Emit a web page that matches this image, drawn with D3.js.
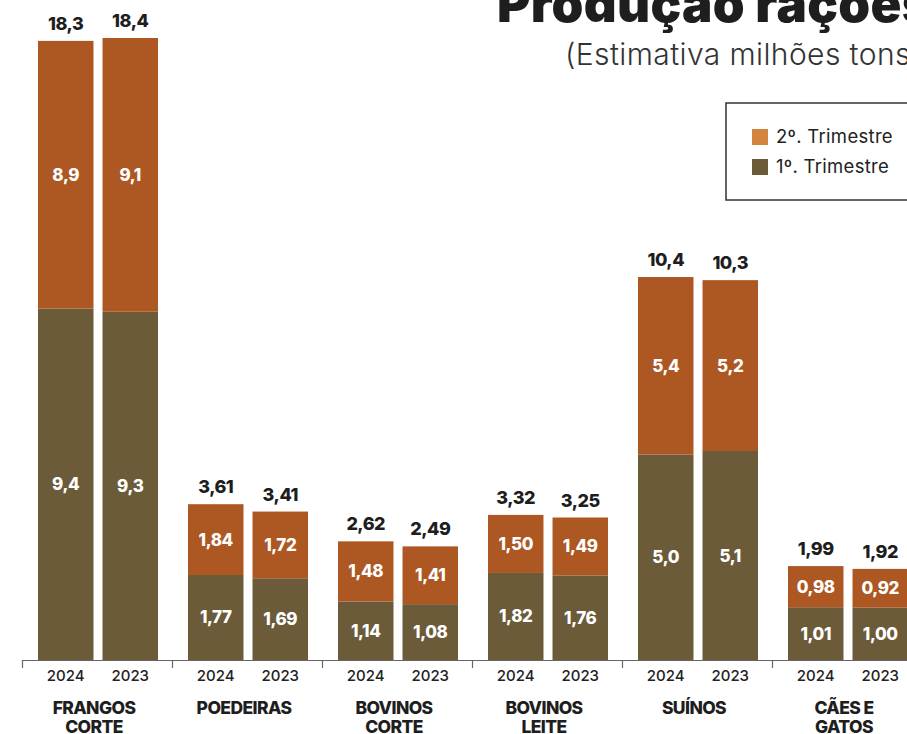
<!DOCTYPE html>
<html>
<head>
<meta charset="utf-8">
<script src="https://cdn.jsdelivr.net/npm/d3@7"></script>
<style>
  body { margin: 0; background: #fff; }
  svg { display: block; font-family: Inter, "Noto Sans", sans-serif; }
</style>
</head>
<body>
<svg width="907" height="734"></svg>
<script>
var categories = [["FRANGOS", "CORTE"], ["POEDEIRAS"], ["BOVINOS", "CORTE"], ["BOVINOS", "LEITE"], ["SUÍNOS"], ["CÃES E", "GATOS"]];
var years = ["2024", "2023"];
var decimals = [1, 2, 2, 2, 1, 2];

// 1º trimestre
var q1_2024 = [9.4, 1.77, 1.14, 1.82, 5.0, 1.01];
var q1_2023 = [9.3, 1.69, 1.08, 1.76, 5.1, 1.00];
// 2º trimestre
var q2_2024 = [8.9, 1.84, 1.48, 1.50, 5.4, 0.98];
var q2_2023 = [9.1, 1.72, 1.41, 1.49, 5.2, 0.92];
// totais
var tot_2024 = [18.3, 3.61, 2.62, 3.32, 10.4, 1.99];
var tot_2023 = [18.4, 3.41, 2.49, 3.25, 10.3, 1.92];

var orange = '#ad5722', olive = '#6b5b39';

var rows = [];
categories.forEach(function(c, i) {
    rows.push({ cat: i, year: '2024', q1: q1_2024[i], q2: q2_2024[i], tot: tot_2024[i] });
    rows.push({ cat: i, year: '2023', q1: q1_2023[i], q2: q2_2023[i], tot: tot_2023[i] });
});

function fmt(v, d) { return v.toFixed(d).replace('.', ','); }

var x0 = d3.scaleBand()
    .domain(d3.range(categories.length))
    .range([22, 22 + 150 * categories.length]);

var x1 = d3.scaleBand()
    .domain(years)
    .range([16, 136])
    .paddingInner(0.14);

var y = d3.scalePow()
    .exponent(0.85)
    .domain([0, 18.4])
    .range([660, 38]);

var svg = d3.select('svg');

// título
svg.append('text')
    .attr('x', 497).attr('y', 22)
    .style('font-size', '51px').style('font-weight', 900)
    .style('letter-spacing', '0.3px')
    .attr('fill', '#1e1e1e')
    .text('Produção rações');

svg.append('text')
    .attr('x', 565).attr('y', 65)
    .style('font-size', '30px').style('font-weight', 300)
    .style('letter-spacing', '0.4px')
    .attr('fill', '#333')
    .text('(Estimativa milhões tons)');

// eixo
var axisScale = d3.scaleLinear().domain([0, categories.length]).range(x0.range());
svg.append('g')
    .attr('transform', 'translate(0,660)')
    .call(d3.axisBottom(axisScale).tickValues(d3.range(categories.length + 1)).tickFormat('').tickSize(8).tickSizeOuter(0))
    .call(function(g) {
        g.selectAll('path, line').attr('stroke', '#666').attr('stroke-width', 1.2);
    });

var bars = svg.selectAll('g.bar')
    .data(rows)
    .enter()
    .append('g')
    .attr('class', 'bar')
    .attr('transform', function(d) { return 'translate(' + (x0(d.cat) + x1(d.year)) + ',0)'; });

var bw = x1.bandwidth();

bars.append('rect')
    .attr('x', 0).attr('width', bw)
    .attr('y', function(d) { return y(d.q1); })
    .attr('height', function(d) { return y(0) - y(d.q1); })
    .attr('fill', olive);

bars.append('rect')
    .attr('x', 0).attr('width', bw)
    .attr('y', function(d) { return y(d.tot); })
    .attr('height', function(d) { return y(d.q1) - y(d.tot); })
    .attr('fill', orange);

bars.append('text')
    .attr('x', bw / 2)
    .attr('y', function(d) { return (y(0) + y(d.q1)) / 2 + 6; })
    .attr('text-anchor', 'middle')
    .style('font-size', '17px').style('font-weight', 800)
    .style('letter-spacing', '-0.4px')
    .attr('fill', '#fff')
    .text(function(d) { return fmt(d.q1, decimals[d.cat]); });

bars.append('text')
    .attr('x', bw / 2)
    .attr('y', function(d) { return (y(d.q1) + y(d.tot)) / 2 + 6; })
    .attr('text-anchor', 'middle')
    .style('font-size', '17px').style('font-weight', 800)
    .style('letter-spacing', '-0.4px')
    .attr('fill', '#fff')
    .text(function(d) { return fmt(d.q2, decimals[d.cat]); });

bars.append('text')
    .attr('x', bw / 2)
    .attr('y', function(d) { return y(d.tot) - 11; })
    .attr('text-anchor', 'middle')
    .style('font-size', '18px').style('font-weight', 800)
    .style('letter-spacing', '-0.5px')
    .attr('fill', '#1e1e1e')
    .text(function(d) { return fmt(d.tot, decimals[d.cat]); });

bars.append('text')
    .attr('x', bw / 2)
    .attr('y', 681)
    .attr('text-anchor', 'middle')
    .style('font-size', '15px').style('font-weight', 500)
    .attr('fill', '#222')
    .text(function(d) { return d.year; });

// nomes das categorias
var catLabels = svg.selectAll('text.cat')
    .data(categories)
    .enter()
    .append('text')
    .attr('class', 'cat')
    .attr('text-anchor', 'middle')
    .style('font-size', '17.5px').style('font-weight', 800)
    .style('letter-spacing', '-0.6px')
    .attr('fill', '#1e1e1e');

catLabels.selectAll('tspan')
    .data(function(d, i) { return d.map(function(s) { return { s: s, i: i }; }); })
    .enter()
    .append('tspan')
    .attr('x', function(d) { return x0(d.i) + x0.bandwidth() / 2 - 3; })
    .attr('y', function(d, j) { return 714 + j * 19; })
    .text(function(d) { return d.s; });

// legenda
var legend = svg.append('g').attr('transform', 'translate(726,103)');
legend.append('rect')
    .attr('width', 200).attr('height', 97)
    .attr('fill', '#fff').attr('stroke', '#333').attr('stroke-width', 1.5);

var legendItems = [{ label: '2º. Trimestre', color: '#d3843f' }, { label: '1º. Trimestre', color: olive }];
legendItems.forEach(function(it, i) {
    legend.append('rect')
        .attr('x', 26).attr('y', 26 + i * 30)
        .attr('width', 16).attr('height', 16)
        .attr('fill', it.color);
    legend.append('text')
        .attr('x', 50).attr('y', 40 + i * 30)
        .style('font-size', '18.5px')
        .style('letter-spacing', '0.3px')
        .attr('fill', '#222')
        .text(it.label);
});
</script>
</body>
</html>
